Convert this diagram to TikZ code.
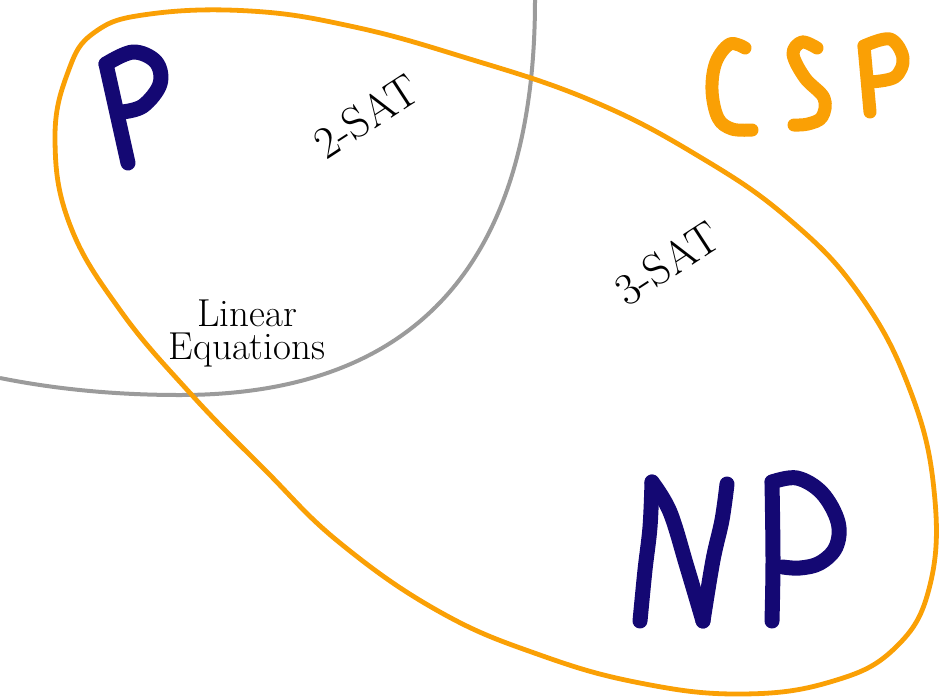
\documentclass[tikz,border=0pt]{standalone}
\definecolor{npblue}{RGB}{20,8,115}
\definecolor{cspor}{RGB}{250,160,5}
\definecolor{pgray}{RGB}{155,155,155}
\tikzset{
  letter/.style={line width=15pt, line cap=round, line join=round, npblue},
  cspletter/.style={line width=13pt, line cap=round, line join=round, cspor},
  lbl/.style={inner sep=0pt, font=\fontsize{39}{33}\selectfont, align=center},
  slbl/.style={inner sep=0pt, font=\fontsize{45}{45}\selectfont, rotate=33},
}
\begin{document}
\begin{tikzpicture}[x=1pt,y=-1pt]
\useasboundingbox (0,0) rectangle (940,697);
% gray P boundary
\draw[pgray, line width=4pt] (535,0) .. controls (535,300) and (380,395) .. (180,395)
   .. controls (100,395) and (40,386) .. (0,378);
% orange CSP boundary
\draw[cspor, line width=4.8pt, line join=round] plot[smooth cycle, tension=0.7] coordinates {
(95,32) (150,14) (250,11) (350,26) (460,56) (590,100) (700,157) (790,220) (860,295) (910,390) (934,490) (930,585) (895,648) (830,682) (740,694) (640,683) (540,655) (440,612) (340,543) (265,470) (190,393) (120,310) (70,225) (55,140) (68,72)};
% P
\draw[letter] (128,163) -- (106,64);
\draw[letter] plot[smooth, tension=0.6] coordinates {(106,64) (133,52) (156,62) (160,84) (143,106) (122,112)};
% CSP
\draw[cspletter] plot[smooth, tension=0.6] coordinates {(745,48) (730,44) (716,62) (712,90) (718,118) (732,129) (752,130)};
\draw[cspletter] plot[smooth, tension=0.6] coordinates {(817,48) (802,42) (793,54) (805,78) (824,98) (822,117) (808,124) (794,125)};
\draw[cspletter] (870,112) -- (864,46);
\draw[cspletter] plot[smooth, tension=0.6] coordinates {(864,46) (890,39) (903,58) (895,77) (870,82)};
% NP
\draw[letter] plot[smooth, tension=0.6] coordinates {(640,621) (645,570) (650,527) (652,482)};
\draw[letter] plot[smooth, tension=0.6] coordinates {(652,482) (670,512) (687,567) (703,621)};
\draw[letter] plot[smooth, tension=0.6] coordinates {(703,621) (713,560) (722,520) (727,484)};
\draw[letter] plot[smooth, tension=0.6] coordinates {(772,621) (773,560) (772,482)};
\draw[letter] plot[smooth, tension=0.6] coordinates {(772,482) (797,478) (822,493) (838,522) (836,547) (820,563) (800,568) (783,567)};
% labels
\node[slbl] (twosat) at (366,116) {2-SAT};
\node[slbl] (threesat) at (667,263) {3-SAT};
\node[lbl] (lineq) at (247,333) {Linear\\Equations};
\end{tikzpicture}
\end{document}
